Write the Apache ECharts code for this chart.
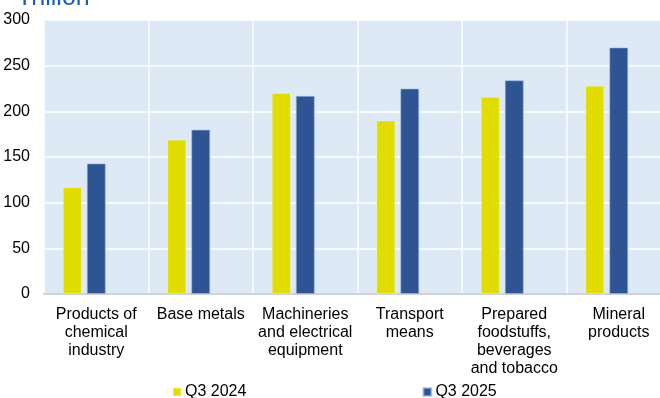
<!DOCTYPE html>
<html>
<head>
<meta charset="utf-8">
<script src="https://cdn.jsdelivr.net/npm/echarts@6/dist/echarts.min.js"></script>
<style>
  html, body { margin: 0; padding: 0; background: #ffffff; overflow: hidden; }
  /* the plot runs slightly past the right page edge */
  #chart { width: 672px; height: 398px; }
</style>
</head>
<body>
<div id="chart"></div>
<script>
// Product groups and quarterly values (trillion)
const categories = [
  'Products of\nchemical\nindustry',
  'Base metals',
  'Machineries\nand electrical\nequipment',
  'Transport\nmeans',
  'Prepared\nfoodstuffs,\nbeverages\nand tobacco',
  'Mineral\nproducts'
];
const q3_2024 = [117, 169, 220, 190, 216, 228];
const q3_2025 = [143, 180, 217, 225, 234, 270];
// Empty third slot keeps each pair left of the category centre
const emptySlot = [null, null, null, null, null, null];
const yTicks = { min: 0, max: 300, interval: 50 };

const FONT = 'Liberation Sans, Arial, sans-serif';
const chart = echarts.init(document.getElementById('chart'), null, { renderer: 'canvas' });

chart.setOption({
  animation: false,
  backgroundColor: '#ffffff',
  title: {
    text: 'Trillion',
    left: 17,
    top: -14,
    padding: 0,
    textStyle: { color: '#1b5cb8', fontSize: 25, fontWeight: 'normal', fontFamily: FONT }
  },
  legend: {
    data: ['Q3 2024', 'Q3 2025'],
    left: 172,
    top: 384,
    padding: 0,
    icon: 'rect',
    itemWidth: 8,
    itemHeight: 8,
    itemGap: 176,
    textStyle: { color: '#000', fontSize: 16, fontFamily: FONT, padding: [0, 0, 0, -1] }
  },
  grid: {
    left: 44,
    top: 20,
    right: 1,
    height: 274,
    show: true,
    backgroundColor: '#dde9f5',
    borderWidth: 0,
    containLabel: false
  },
  xAxis: {
    type: 'category',
    data: categories,
    axisLine: { show: true, lineStyle: { color: '#cfd3d8', width: 2 } },
    axisTick: { show: false },
    splitLine: { show: true, interval: 0, lineStyle: { color: '#ffffff', width: 1.5 } },
    axisLabel: {
      interval: 0,
      margin: 12,
      color: '#000',
      fontSize: 16,
      lineHeight: 18,
      fontFamily: FONT
    }
  },
  yAxis: {
    type: 'value',
    min: yTicks.min,
    max: yTicks.max,
    interval: yTicks.interval,
    axisLine: { show: false },
    axisTick: { show: false },
    splitLine: { show: true, lineStyle: { color: '#ffffff', width: 1.5 } },
    axisLabel: { margin: 14, color: '#000', fontSize: 16, fontFamily: FONT }
  },
  series: [
    {
      name: 'Q3 2024',
      type: 'bar',
      data: q3_2024,
      barWidth: 19,
      barGap: '26%',
      itemStyle: { color: '#e1dd00', borderColor: 'rgba(255,255,255,0.25)', borderWidth: 1 }
    },
    {
      name: 'Q3 2025',
      type: 'bar',
      data: q3_2025,
      barWidth: 19,
      barGap: '26%',
      itemStyle: { color: '#2e5494', borderColor: 'rgba(160,185,225,0.6)', borderWidth: 1 }
    },
    {
      name: 'empty',
      type: 'bar',
      data: emptySlot,
      barWidth: 19,
      barGap: '26%'
    }
  ]
});
</script>
</body>
</html>
